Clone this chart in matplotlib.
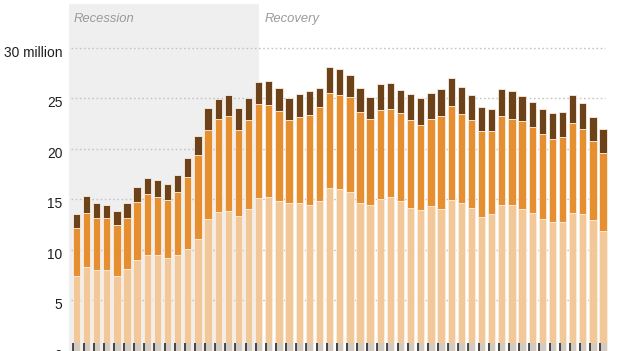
import matplotlib
matplotlib.use("Agg")
import matplotlib.pyplot as plt
import numpy as np

# Segment values (millions), one per bar, bottom to top
light = [7.35, 8.25, 7.98, 8.01, 7.35, 8.11, 8.94, 9.46, 9.43, 9.20, 9.43, 10.03, 11.05,
         13.03, 13.73, 13.86, 13.30, 13.99, 15.08, 15.23, 14.85, 14.59, 14.59, 14.42, 14.82,
         16.15, 16.03, 15.73, 14.65, 14.42, 14.97, 15.21, 14.80, 14.15, 13.89, 14.30, 14.00,
         14.95, 14.57, 14.14, 13.23, 13.50, 14.42, 14.42, 13.99, 13.61, 13.08, 12.69, 12.71,
         13.60, 13.48, 12.91, 11.87]
mid = [4.76, 5.35, 5.12, 5.09, 5.06, 5.05, 5.75, 6.05, 5.81, 5.75, 6.31, 7.19, 8.30,
       8.85, 9.21, 9.38, 8.58, 8.82, 9.38, 9.08, 8.92, 8.25, 8.52, 8.94, 9.34,
       9.37, 9.32, 9.39, 8.96, 8.52, 8.87, 8.69, 8.71, 8.69, 8.46, 8.67, 9.24,
       9.28, 8.84, 8.70, 8.52, 8.28, 8.79, 8.55, 8.73, 8.54, 8.35, 8.27, 8.48,
       8.92, 8.44, 7.88, 7.73]
dark = [1.39, 1.74, 1.55, 1.35, 1.39, 1.43, 1.51, 1.56, 1.63, 1.58, 1.62, 1.89, 1.88,
        2.15, 2.02, 2.11, 2.15, 2.19, 2.15, 2.35, 2.20, 2.21, 2.34, 2.31, 1.86,
        2.55, 2.52, 2.21, 2.41, 2.21, 2.54, 2.64, 2.31, 2.55, 2.65, 2.52, 2.65,
        2.75, 2.68, 2.45, 2.41, 2.15, 2.68, 2.78, 2.53, 2.45, 2.47, 2.55, 2.48,
        2.83, 2.61, 2.35, 2.38]
recession_end = 18  # index of last recession bar (shading ends at its centre)
ytick_values = [0, 5, 10, 15, 20, 25, 30]
ytick_labels = ["0", "5", "10", "15", "20", "25", "30 million"]
period_labels = ["Recession", "Recovery"]

C_LIGHT = "#f2c898"
C_MID = "#e68f31"
C_DARK = "#6b4219"
C_SHADE = "#efefef"
FONT = ["Liberation Sans", "DejaVu Sans"]

W, H = 624, 351
fig = plt.figure(figsize=(W / 100, H / 100), dpi=100)
fig.patch.set_facecolor("white")
ax_l, ax_r, ax_b, ax_t = 69, 610, 0.5, 4
ax = fig.add_axes([ax_l / W, ax_b / H, (ax_r - ax_l) / W, (H - ax_t - ax_b) / H])

n = len(light)
x = np.arange(n)
bw = 0.72
ax.set_xlim(-0.726, 52.68)
ax.set_ylim(0, 34.34)
ax.axis("off")

# Recession shading
ax.axvspan(-0.72, recession_end, color=C_SHADE, zorder=0, lw=0)

# Gridlines
for v in ytick_values[1:]:
    ax.hlines(v, -0.53, 52.19, colors="#c4c4c4", linewidth=1.0,
              linestyles=(0, (1.2, 1.8)), zorder=1)

light_a = np.array(light)
mid_a = np.array(mid)
dark_a = np.array(dark)
ec = "#fbeee0"
ax.bar(x, light_a, width=bw, color=C_LIGHT, edgecolor=ec, linewidth=0.6, zorder=2)
ax.bar(x, mid_a, bottom=light_a, width=bw, color=C_MID, edgecolor=ec, linewidth=0.6, zorder=2)
ax.bar(x, dark_a, bottom=light_a + mid_a, width=bw, color=C_DARK, edgecolor=ec, linewidth=0.6, zorder=2)

# bottom axis band with small dark ticks
ax.bar(x, [0.78] * n, width=bw, color="#d2cbc4", linewidth=0, zorder=3)
for xi in x:
    ax.plot([xi - bw / 2 + 0.07, xi - bw / 2 + 0.07], [0, 0.78], color="#222222",
            lw=1.1, zorder=4, solid_capstyle="butt")

# Y labels
for v, lab in zip(ytick_values, ytick_labels):
    ax.text(-0.726 - 0.65, v - 0.52, lab, ha="right", va="center", fontsize=9.9,
            color="#1e1e1e", family=FONT, clip_on=False)

# Period labels
ax.text(-0.3, 32.9, period_labels[0], ha="left", va="center", fontsize=9.4,
        style="italic", color="#9a9a9a", family=FONT)
ax.text(recession_end + 0.55, 32.9, period_labels[1], ha="left", va="center", fontsize=9.4,
        style="italic", color="#9a9a9a", family=FONT)

fig.savefig("out.png", dpi=100)
